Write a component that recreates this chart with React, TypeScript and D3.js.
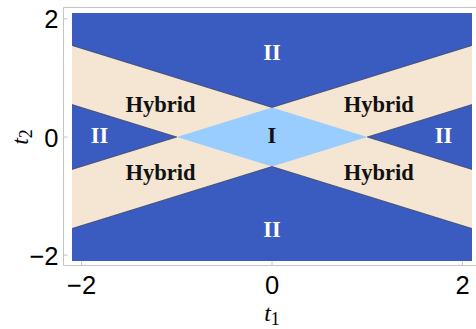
import * as d3 from 'd3';

// phase diagram in the (t1, t2) plane
const t1Domain = [-2.1, 2.1];
const t2Domain = [-2.1, 2.1];
const tickValues = [-2, 0, 2];

// region polygons, vertices in (t1, t2)
const hybridBand: [number, number][] = [[-2.1, 1.55], [0, 0.5], [2.1, 1.55], [2.1, -1.55], [0, -0.5], [-2.1, -1.55]];
const phaseI: [number, number][] = [[-1, 0], [0, 0.5], [1, 0], [0, -0.5]];
const sideIILeft: [number, number][] = [[-2.1, 0.55], [-1, 0], [-2.1, -0.55]];
const sideIIRight: [number, number][] = [[2.1, 0.55], [1, 0], [2.1, -0.55]];

// blue / beige boundaries
const boundaries: [number, number][][] = [
  [[-2.1, 1.55], [0, 0.5], [2.1, 1.55]],
  [[-2.1, -1.55], [0, -0.5], [2.1, -1.55]],
  sideIILeft,
  sideIIRight,
];

const labelText = ['II', 'Hybrid', 'Hybrid', 'II', 'I', 'II', 'Hybrid', 'Hybrid', 'II'];
const labelT1 = [0, -1.17, 1.12, -1.81, 0, 1.8, -1.17, 1.12, 0];
const labelT2 = [1.43, 0.55, 0.55, 0.02, 0.02, 0.02, -0.6, -0.6, -1.56];
const labelDark = [false, true, true, false, true, false, true, true, false];

const W = 476;
const H = 329;
const plot = { left: 72, right: 472, top: 13, bottom: 261 };
const frame = { left: 63.5, top: 7.5, right: 490, bottom: 265.5 };

const DARK = '#3a5bbf';
const BEIGE = '#f5e6d3';
const LIGHT = '#99ccff';

export default function App() {
  const x = d3.scaleLinear().domain(t1Domain).range([plot.left, plot.right]);
  const y = d3.scaleLinear().domain(t2Domain).range([plot.bottom, plot.top]);
  const poly = d3.line<[number, number]>().x(d => x(d[0])).y(d => y(d[1]));
  const closed = (pts: [number, number][]) => poly(pts) + 'Z';

  return (
    <svg width={W} height={H} style={{ position: 'absolute', left: 0, top: 0 }}>
      <rect x={plot.left} y={plot.top} width={plot.right - plot.left} height={plot.bottom - plot.top} fill={DARK} />
      <path d={closed(hybridBand)} fill={BEIGE} />
      <path d={closed(sideIILeft)} fill={DARK} />
      <path d={closed(sideIIRight)} fill={DARK} />
      <path d={closed(phaseI)} fill={LIGHT} />
      {boundaries.map((b, i) => (
        <path key={i} d={poly(b) || ''} fill="none" stroke="#3b3f55" strokeWidth={0.9} strokeOpacity={0.8} />
      ))}

      {/* frame */}
      <path
        d={`M${frame.right},${frame.top}H${frame.left}V${frame.bottom}H${frame.right}`}
        fill="none" stroke="#c4c4c4" strokeWidth={1}
      />
      {tickValues.map(v => (
        <g key={'x' + v}>
          <line x1={x(v)} x2={x(v)} y1={frame.bottom} y2={frame.bottom - 4} stroke="#c4c4c4" />
          <text x={x(v)} y={frame.bottom + 28} textAnchor="middle" fontFamily="Liberation Sans, Arial, sans-serif" fontSize={25.5}>
            {v < 0 ? '\u2212' + Math.abs(v) : v}
          </text>
        </g>
      ))}
      {tickValues.map(v => (
        <g key={'y' + v}>
          <line x1={frame.left} x2={frame.left + 4} y1={y(v)} y2={y(v)} stroke="#c4c4c4" />
          <text x={frame.left - 5} y={y(v) + 9.5} textAnchor="end" fontFamily="Liberation Sans, Arial, sans-serif" fontSize={25.5}>
            {v < 0 ? '\u2212' + Math.abs(v) : v}
          </text>
        </g>
      ))}

      {/* axis titles */}
      <text x={272} y={320.5} textAnchor="middle" fontFamily="Liberation Serif, serif" fontSize={24}>
        <tspan fontStyle="italic">t</tspan>
        <tspan fontSize={18} dy={4}>1</tspan>
      </text>
      <text transform={`translate(28,${y(0)}) rotate(-90)`} textAnchor="middle" fontFamily="Liberation Serif, serif" fontSize={24}>
        <tspan fontStyle="italic">t</tspan>
        <tspan fontSize={18} dy={4}>2</tspan>
      </text>

      {/* region labels */}
      {labelText.map((t, i) => (
        <text
          key={i}
          x={x(labelT1[i])}
          y={y(labelT2[i]) + 7.5}
          textAnchor="middle"
          fontFamily="Liberation Serif, serif"
          fontWeight="bold"
          fontSize={22.5}
          fill={labelDark[i] ? '#111' : '#fff'}
        >
          {t}
        </text>
      ))}
    </svg>
  );
}
